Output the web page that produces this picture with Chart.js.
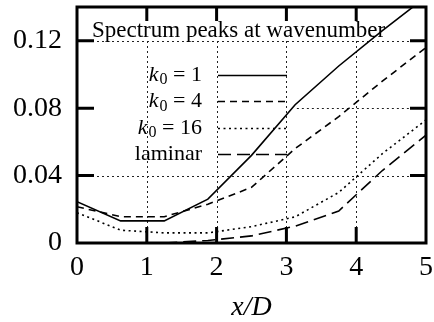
<!DOCTYPE html>
<html>
<head>
<meta charset="utf-8">
<script src="https://cdn.jsdelivr.net/npm/chart.js@4/dist/chart.umd.min.js"></script>
<style>
  html, body { margin: 0; padding: 0; background: #fff; }
  #wrap { width: 434px; height: 322px; }
</style>
</head>
<body>
<div id="wrap"><canvas id="chart"></canvas></div>
<script>
// values
const xPos = [0, 0.625, 1.25, 1.875, 2.5, 3.125, 3.75, 4.375, 5];
const k1 = [0.0245, 0.0131, 0.0131, 0.026, 0.052, 0.082, 0.105, 0.126, 0.146];
const k4 = [0.0215, 0.0156, 0.0156, 0.023, 0.033, 0.056, 0.075, 0.096, 0.116];
const k16 = [0.018, 0.0076, 0.006, 0.006, 0.0097, 0.0155, 0.030, 0.053, 0.073];
const laminar = [null, null, 0.0, 0.0015, 0.0042, 0.010, 0.019, 0.043, 0.064];

const xTicks = [0, 1, 2, 3, 4, 5];
const yTicks = [0, 0.04, 0.08, 0.12];
const yTickLabels = ["0", "0.04", "0.08", "0.12"];
const legendLabels = ["k_0 = 1", "k_0 = 4", "k_0 = 16", "laminar"];
const legendTitle = "Spectrum peaks at wavenumber";

const SERIF = "'Liberation Serif', 'Times New Roman', serif";
const dashes = [[], [7, 5], [2, 3.5], [13, 6]];
const series = [k1, k4, k16, laminar];

function points(ys) {
  return xPos.map((x, i) => ({ x, y: ys[i] }));
}

// dotted grid, drawn under the curves (the 0.08 line is hidden behind the key)
const gridPlugin = {
  id: "grid",
  beforeDatasetsDraw(chart) {
    const { ctx, scales: { x, y } } = chart;
    ctx.save();
    ctx.strokeStyle = "#222";
    ctx.lineWidth = 1;
    ctx.setLineDash([2, 3]);
    for (const v of xTicks.slice(1, -1)) {
      const px = Math.round(x.getPixelForValue(v)) + 0.5;
      ctx.beginPath();
      ctx.moveTo(px, y.getPixelForValue(0));
      ctx.lineTo(px, y.getPixelForValue(0.12));
      ctx.stroke();
    }
    const rows = [[0.04, 0], [0.08, 3.15], [0.12, 0]];
    for (const [v, from] of rows) {
      const py = Math.round(y.getPixelForValue(v)) + 0.5;
      ctx.beginPath();
      ctx.moveTo(x.getPixelForValue(from), py);
      ctx.lineTo(x.getPixelForValue(5), py);
      ctx.stroke();
    }
    ctx.restore();
  },
};

function drawKeyLabel(ctx, text, xRight, yMid) {
  const m = text.match(/^(\w)_(\w)(.*)$/);
  ctx.textBaseline = "middle";
  ctx.textAlign = "left";
  if (!m) {
    ctx.font = "22px " + SERIF;
    ctx.fillText(text, xRight - ctx.measureText(text).width, yMid);
    return;
  }
  ctx.font = "italic 22px " + SERIF;
  const w1 = ctx.measureText(m[1]).width;
  ctx.font = "16px " + SERIF;
  const w2 = ctx.measureText(m[2]).width;
  ctx.font = "22px " + SERIF;
  const w3 = ctx.measureText(m[3]).width;
  let cx = xRight - (w1 + w2 + w3 + 1);
  ctx.font = "italic 22px " + SERIF;
  ctx.fillText(m[1], cx, yMid);
  cx += w1 + 1;
  ctx.font = "16px " + SERIF;
  ctx.fillText(m[2], cx, yMid + 5);
  cx += w2;
  ctx.font = "22px " + SERIF;
  ctx.fillText(m[3], cx, yMid);
}

// frame, inward ticks and the key
const framePlugin = {
  id: "frame",
  afterDatasetsDraw(chart) {
    const { ctx, chartArea: a, scales: { x, y } } = chart;
    ctx.save();
    ctx.strokeStyle = "#000";
    ctx.lineWidth = 3;
    ctx.setLineDash([]);
    ctx.strokeRect(a.left, a.top, a.right - a.left, a.bottom - a.top);
    ctx.beginPath();
    for (const v of xTicks.slice(1, -1)) {
      const px = x.getPixelForValue(v);
      ctx.moveTo(px, a.bottom); ctx.lineTo(px, a.bottom - 16);
      ctx.moveTo(px, a.top); ctx.lineTo(px, a.top + 14);
    }
    for (const v of yTicks.slice(1)) {
      const py = y.getPixelForValue(v);
      ctx.moveTo(a.left, py); ctx.lineTo(a.left + 17, py);
      ctx.moveTo(a.right, py); ctx.lineTo(a.right - 16, py);
    }
    ctx.stroke();

    // key title, stretched to the width it has in the figure
    ctx.fillStyle = "#000";
    ctx.font = "20px " + SERIF;
    const tw = ctx.measureText(legendTitle).width;
    const size = 20 * 293 / tw;
    ctx.font = size.toFixed(1) + "px " + SERIF;
    ctx.textAlign = "left";
    ctx.textBaseline = "alphabetic";
    ctx.fillText(legendTitle, 92, 37);

    legendLabels.forEach((label, i) => {
      const yMid = 75 + i * 26.4;
      drawKeyLabel(ctx, label, 202, yMid);
      ctx.lineWidth = 1.6;
      ctx.setLineDash(dashes[i]);
      ctx.beginPath();
      ctx.moveTo(218, Math.round(yMid) + 0.5);
      ctx.lineTo(287, Math.round(yMid) + 0.5);
      ctx.stroke();
    });
    ctx.restore();
  },
};

new Chart(document.getElementById("chart"), {
  type: "line",
  data: {
    datasets: series.map((ys, i) => ({
      label: legendLabels[i],
      data: points(ys),
      borderColor: "#000",
      borderWidth: 1.6,
      borderDash: dashes[i],
      pointRadius: 0,
      tension: 0,
      fill: false,
      spanGaps: false,
    })),
  },
  options: {
    responsive: true,
    maintainAspectRatio: false,
    animation: false,
    events: [],
    layout: { padding: { top: 7, right: 8, left: 0, bottom: 0 } },
    plugins: { legend: { display: false }, tooltip: { enabled: false } },
    scales: {
      x: {
        type: "linear",
        min: 0,
        max: 5,
        afterBuildTicks: (s) => { s.ticks = xTicks.map((v) => ({ value: v })); },
        afterFit: (s) => { s.height = 79; s.paddingLeft = 0; s.paddingRight = 0; },
        grid: { display: false, drawTicks: false },
        border: { display: false },
        ticks: {
          color: "#000",
          padding: 8,
          maxRotation: 0,
          font: { family: SERIF, size: 28 },
          callback: (v) => String(v),
        },
        title: {
          display: true,
          text: "x/D",
          color: "#000",
          padding: { top: 0, bottom: 0 },
          font: { family: SERIF, size: 28, style: "italic", lineHeight: 1 },
        },
      },
      y: {
        type: "linear",
        min: 0,
        max: 0.14,
        afterBuildTicks: (s) => { s.ticks = yTicks.map((v) => ({ value: v })); },
        afterFit: (s) => { s.width = 77; s.paddingTop = 0; s.paddingBottom = 0; },
        grid: { display: false, drawTicks: false },
        border: { display: false },
        ticks: {
          color: "#000",
          padding: 15,
          font: { family: SERIF, size: 28 },
          callback: (v) => yTickLabels[yTicks.indexOf(v)] ?? "",
        },
      },
    },
  },
  plugins: [gridPlugin, framePlugin],
});
</script>
</body>
</html>
